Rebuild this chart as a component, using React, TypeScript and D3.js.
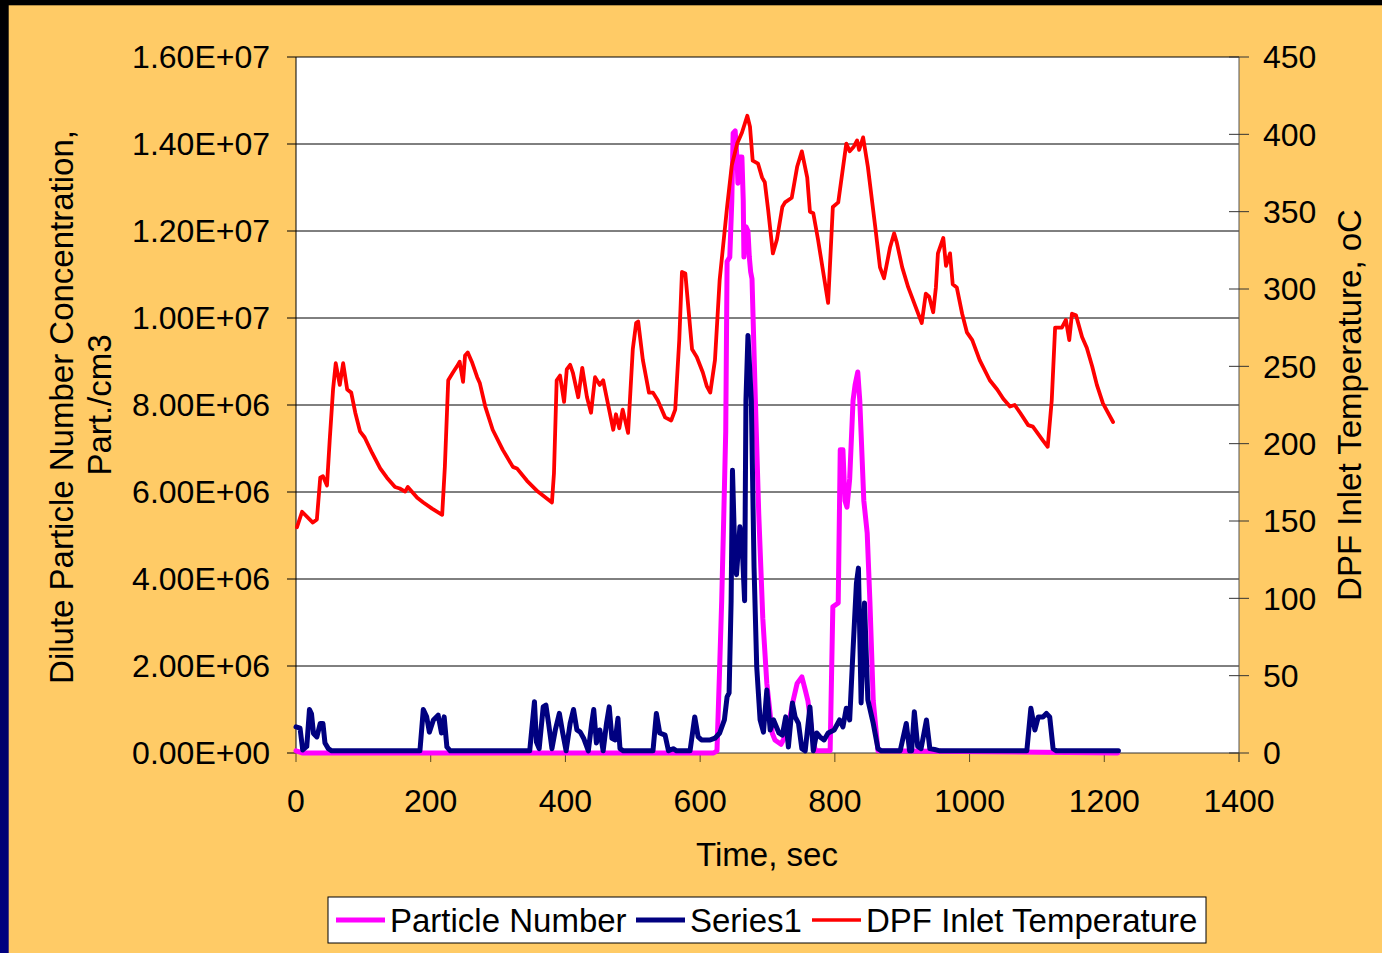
import React from "react";
import * as d3 from "d3";

// Time (s) and particle number concentration (millions of part./cm3)
const particleNumber: [number, number][] = [
  [0, 0.05], [10, 0], [620, 0], [625, 0.05], [629, 1.98], [632, 3.5], [635, 5.4], [638, 7.4],
  [640, 11.3], [644, 11.4], [647, 12.7], [649, 14.25], [652, 14.3], [655, 13.6], [656, 13.1],
  [658, 13.2], [659, 13.7], [662, 13.7], [664, 12.7], [665, 11.4], [668, 12.1], [671, 12.0],
  [673, 11.4], [675, 11.06], [677, 10.9], [682, 8.1], [687, 5.5], [693, 3.1], [699, 1.6],
  [707, 0.46], [711, 0.3], [720, 0.2], [729, 0.46], [738, 1.2], [744, 1.6], [751, 1.75],
  [756, 1.45], [760, 1.2], [766, 0.46], [771, 0.05], [793, 0.05], [797, 3.36], [805, 3.45],
  [808, 6.97], [812, 6.97], [815, 5.8], [818, 5.65], [822, 6.3], [827, 8.1], [830, 8.46],
  [834, 8.76], [837, 8.1], [843, 5.8], [848, 5.06], [852, 3.5], [857, 1.2], [864, 0.05], [1220, 0],
];

const series1: [number, number][] = [
  [0, 0.6], [6, 0.57], [10, 0.07], [16, 0.15], [20, 1.0], [23, 0.9], [26, 0.45], [31, 0.37],
  [36, 0.68], [40, 0.68], [43, 0.23], [48, 0.1], [53, 0.05], [184, 0.05], [189, 1.0], [194, 0.83],
  [198, 0.48], [204, 0.76], [211, 0.87], [216, 0.46], [220, 0.83], [224, 0.14], [229, 0.05],
  [347, 0.05], [354, 1.18], [357, 0.25], [361, 0.1], [367, 1.06], [371, 1.1], [375, 0.68],
  [380, 0.1], [385, 0.53], [391, 0.91], [396, 0.46], [401, 0.05], [407, 0.68], [412, 1.0],
  [417, 0.53], [422, 0.48], [427, 0.34], [434, 0.05], [439, 0.68], [442, 1.0], [446, 0.23],
  [451, 0.53], [456, 0.05], [461, 0.68], [465, 1.06], [469, 0.34], [474, 0.3], [478, 0.8],
  [481, 0.1], [486, 0.05], [530, 0.05], [535, 0.91], [540, 0.46], [548, 0.41], [553, 0.05],
  [560, 0.1], [565, 0.05], [585, 0.05], [592, 0.83], [597, 0.37], [602, 0.3], [615, 0.3],
  [622, 0.34], [629, 0.46], [636, 0.76], [640, 1.29], [643, 1.38], [646, 3.5], [648, 6.5],
  [652, 4.28], [654, 4.1], [659, 5.2], [662, 4.9], [666, 3.5], [668, 8.1], [671, 9.6], [676, 8.1],
  [680, 4.28], [684, 1.98], [689, 0.76], [694, 0.48], [699, 1.45], [704, 0.53], [709, 0.76],
  [717, 0.46], [722, 0.41], [727, 0.83], [731, 0.14], [737, 1.15], [741, 0.83], [746, 0.68],
  [751, 0.1], [756, 0.05], [763, 1.06], [768, 0.05], [773, 0.46], [778, 0.37], [784, 0.3],
  [790, 0.46], [799, 0.53], [807, 0.76], [812, 0.6], [817, 1.03], [822, 0.76], [827, 2.37],
  [832, 3.9], [835, 4.25], [839, 1.15], [844, 3.45], [849, 1.22], [857, 0.68], [864, 0.1],
  [869, 0.05], [897, 0.05], [906, 0.68], [911, 0.05], [914, 0.05], [918, 0.95], [923, 0.15],
  [928, 0.1], [936, 0.76], [941, 0.1], [948, 0.08], [956, 0.05], [1085, 0.05], [1091, 1.03],
  [1097, 0.53], [1102, 0.83], [1109, 0.83], [1114, 0.91], [1119, 0.83], [1124, 0.1], [1129, 0.05],
  [1221, 0.05],
];

// Time (s) and DPF inlet temperature (°C)
const dpfTemperature: [number, number][] = [
  [1.5, 146], [9, 156], [25, 149], [31, 151], [36, 178], [40, 179], [46, 173], [50, 202], [55, 235],
  [59, 252], [65, 238], [70, 252], [76, 235], [82, 233], [88, 220], [95, 208], [102, 204], [113, 194],
  [125, 184], [135, 178], [147, 172], [154, 171], [162, 169], [166, 172], [180, 165], [189, 162],
  [202, 158], [217, 154], [221, 185], [226, 241], [233, 246], [239, 250], [243, 253], [248, 240],
  [251, 257], [255, 259], [261, 253], [269, 243], [273, 239], [281, 224], [292, 209], [307, 196],
  [322, 185], [328, 184], [343, 176], [359, 169], [380, 162], [383, 181], [387, 241], [392, 244],
  [398, 227], [402, 248], [407, 251], [411, 246], [419, 230], [425, 249], [432, 230], [438, 220],
  [444, 243], [451, 238], [456, 241], [463, 226], [471, 209], [475, 219], [480, 210], [485, 222],
  [493, 207], [500, 261], [505, 278], [508, 279], [515, 254], [524, 233], [530, 233], [537, 228],
  [548, 217], [557, 215], [563, 222], [569, 267], [573, 311], [578, 310], [588, 261], [595, 256],
  [604, 246], [610, 237], [615, 233], [622, 254], [629, 306], [640, 353], [647, 380], [655, 394],
  [662, 401], [670, 412], [674, 405], [678, 383], [686, 381], [692, 372], [696, 369], [701, 351],
  [708, 323], [714, 332], [722, 353], [726, 356], [736, 359], [744, 379], [751, 389], [759, 372],
  [763, 350], [768, 349], [775, 332], [790, 291], [797, 353], [805, 356], [811, 375], [817, 394],
  [822, 389], [828, 392], [833, 396], [836, 390], [842, 398], [849, 379], [860, 340], [867, 314],
  [873, 307], [882, 327], [888, 336], [892, 330], [900, 314], [909, 301], [922, 286], [929, 278],
  [935, 297], [940, 295], [946, 285], [950, 301], [953, 323], [961, 333], [965, 315], [971, 323],
  [975, 303], [981, 301], [989, 284], [996, 272], [1004, 267], [1015, 254], [1030, 241], [1041, 235],
  [1050, 229], [1060, 224], [1067, 225], [1075, 220], [1087, 212], [1094, 211], [1109, 202],
  [1116, 198], [1122, 228], [1127, 275], [1137, 275], [1143, 280], [1148, 267], [1152, 284],
  [1158, 283], [1167, 269], [1174, 262], [1182, 250], [1189, 238], [1198, 226], [1213, 214],
];

const seriesNames = ["Particle Number", "Series1", "DPF Inlet Temperature"];
const xTitle = "Time, sec";
const yLeftTitle = ["Dilute Particle Number Concentration,", "Part./cm3"];
const yRightTitle = "DPF Inlet Temperature, oC";

const FONT = "'Liberation Sans', Arial, sans-serif";

function sci(v: number): string {
  if (v === 0) return "0.00E+00";
  const e = Math.floor(Math.log10(v));
  const m = v / Math.pow(10, e);
  return m.toFixed(2) + "E+" + String(e).padStart(2, "0");
}

export default function App() {
  const W = 1382, H = 953;
  const L = 296, R = 1239, T = 57, B = 753;
  const x = d3.scaleLinear().domain([0, 1400]).range([L, R]);
  const yL = d3.scaleLinear().domain([0, 1.6e7]).range([B, T]);
  const yR = d3.scaleLinear().domain([0, 450]).range([B, T]);

  const lineL = d3.line<[number, number]>().x((d) => x(d[0])).y((d) => yL(d[1] * 1e6));
  const lineR = d3.line<[number, number]>().x((d) => x(d[0])).y((d) => yR(d[1]));

  const leftTicks = yL.ticks(8);
  const rightTicks = yR.ticks(9);
  const xTicks = x.ticks(7);
  const fs = 32;
  const tfs = 33;

  const legendItems = [
    { name: seriesNames[0], color: "#FF00FF", w: 5, x0: 336 },
    { name: seriesNames[1], color: "#000080", w: 5, x0: 636 },
    { name: seriesNames[2], color: "#FF0000", w: 3.6, x0: 812 },
  ];

  return (
    <svg width={W} height={H} style={{ position: "absolute", left: 0, top: 0 }} fontFamily={FONT}>
      <defs>
        <linearGradient id="edge" x1="0" y1="0" x2="0" y2="1">
          <stop offset="0" stopColor="#000000" />
          <stop offset="0.5" stopColor="#000050" />
          <stop offset="1" stopColor="#000080" />
        </linearGradient>
      </defs>
      <rect x={0} y={0} width={W} height={H} fill="#FFCB66" />
      <rect x={0} y={0} width={8.7} height={H} fill="url(#edge)" />
      <rect x={0} y={0} width={W} height={5.3} fill="#000000" />

      <rect x={L} y={T} width={R - L} height={B - T} fill="#FFFFFF" />
      {leftTicks.filter((v) => v > 0).map((v) => (
        <line key={"g" + v} x1={L} x2={R} y1={yL(v)} y2={yL(v)} stroke="#000" strokeWidth={1} />
      ))}
      {/* axes */}
      <line x1={L} x2={L} y1={T} y2={B} stroke="#000" strokeWidth={1} />
      <line x1={R} x2={R} y1={T} y2={B + 9} stroke="#555" strokeWidth={1} />
      <line x1={L} x2={R} y1={B} y2={B} stroke="#333" strokeWidth={1} />
      {leftTicks.map((v) => (
        <g key={"l" + v}>
          <line x1={L - 9} x2={L} y1={yL(v)} y2={yL(v)} stroke="#000" />
          <text x={270} y={yL(v) + 11.4} textAnchor="end" fontSize={fs} fill="#000">{sci(v)}</text>
        </g>
      ))}
      {rightTicks.map((v) => (
        <g key={"r" + v}>
          <line x1={R - 10} x2={R + 10} y1={yR(v)} y2={yR(v)} stroke="#333" />
          <text x={1263} y={yR(v) + 11.4} textAnchor="start" fontSize={fs} fill="#000">{v}</text>
        </g>
      ))}
      {xTicks.map((v) => (
        <g key={"x" + v}>
          <line x1={x(v)} x2={x(v)} y1={B} y2={B + 9} stroke="#5a4a20" />
          <text x={x(v)} y={811.5} textAnchor="middle" fontSize={fs} fill="#000">{v}</text>
        </g>
      ))}

      {/* series */}
      <path d={lineL(particleNumber) || ""} fill="none" stroke="#FF00FF" strokeWidth={5} strokeLinejoin="round" strokeLinecap="round" />
      <path d={lineL(series1) || ""} fill="none" stroke="#000080" strokeWidth={5} strokeLinejoin="round" strokeLinecap="round" />
      <path d={lineR(dpfTemperature) || ""} fill="none" stroke="#FF0000" strokeWidth={3.8} strokeLinejoin="round" strokeLinecap="round" />

      {/* titles */}
      <text x={767} y={866} textAnchor="middle" fontSize={tfs} fill="#000">{xTitle}</text>
      <text transform="translate(73,407) rotate(-90)" textAnchor="middle" fontSize={tfs} fill="#000">{yLeftTitle[0]}</text>
      <text transform="translate(111,405) rotate(-90)" textAnchor="middle" fontSize={tfs} fill="#000">{yLeftTitle[1]}</text>
      <text transform="translate(1361,405) rotate(-90)" textAnchor="middle" fontSize={tfs} fill="#000">{yRightTitle}</text>

      {/* legend */}
      <rect x={328} y={897} width={878} height={46} fill="#FFFFFF" stroke="#000" strokeWidth={1} />
      {legendItems.map((it) => (
        <g key={it.name}>
          <line x1={it.x0} x2={it.x0 + 49} y1={920} y2={920} stroke={it.color} strokeWidth={it.w} />
          <text x={it.x0 + 54} y={931.5} fontSize={tfs} fill="#000">{it.name}</text>
        </g>
      ))}
    </svg>
  );
}
